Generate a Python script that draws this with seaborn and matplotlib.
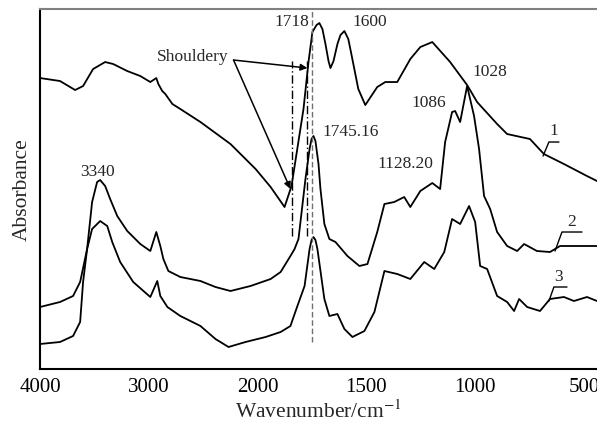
import numpy as np
import pandas as pd
import matplotlib
matplotlib.use("Agg")
import matplotlib.pyplot as plt
import seaborn as sns

# ---------------- data ----------------
wn1 = [4000, 3816, 3677, 3604, 3512, 3401, 3327, 3198, 3078, 2986, 2931, 2912, 2876, 2848,
       2783, 2710, 2525, 2249, 2018, 1940, 1876, 1844, 1789, 1766, 1748, 1729, 1716, 1702,
       1688, 1674, 1665, 1651, 1633, 1619, 1601, 1583, 1569, 1537, 1505, 1450, 1413, 1358,
       1298, 1252, 1197, 1115, 1037, 991, 899, 853, 748, 684, 592, 486, 440]
ab1 = [2.91, 2.88, 2.79, 2.83, 3.00, 3.07, 3.05, 2.98, 2.93, 2.87, 2.91, 2.85, 2.78, 2.75,
       2.65, 2.60, 2.47, 2.25, 2.00, 1.82, 1.62, 1.83, 2.60, 3.07, 3.37, 3.44, 3.46, 3.40,
       3.25, 3.08, 3.01, 3.08, 3.25, 3.34, 3.38, 3.30, 3.15, 2.80, 2.64, 2.82, 2.87, 2.87,
       3.10, 3.22, 3.27, 3.07, 2.84, 2.67, 2.45, 2.35, 2.30, 2.15, 2.05, 1.93, 1.88]

wn2 = [4000, 3816, 3696, 3631, 3567, 3521, 3475, 3447, 3401, 3355, 3290, 3198, 3078, 2986,
       2931, 2894, 2866, 2820, 2710, 2525, 2387, 2249, 2065, 1940, 1894, 1849, 1830, 1812,
       1780, 1761, 1752, 1743, 1734, 1720, 1711, 1693, 1670, 1642, 1587, 1532, 1495, 1450,
       1417, 1372, 1326, 1298, 1252, 1197, 1161, 1138, 1106, 1092, 1069, 1037, 1005, 982,
       959, 931, 899, 853, 807, 775, 716, 656, 610, 546, 440]
ab2 = [0.62, 0.67, 0.73, 0.87, 1.20, 1.67, 1.87, 1.89, 1.83, 1.70, 1.53, 1.38, 1.25, 1.18,
       1.37, 1.23, 1.10, 0.98, 0.92, 0.88, 0.82, 0.78, 0.83, 0.90, 0.97, 1.13, 1.20, 1.30,
       1.90, 2.20, 2.30, 2.33, 2.28, 2.05, 1.80, 1.45, 1.30, 1.27, 1.13, 1.03, 1.05, 1.37,
       1.65, 1.67, 1.72, 1.62, 1.78, 1.86, 1.80, 2.27, 2.57, 2.58, 2.47, 2.83, 2.53, 2.20,
       1.73, 1.60, 1.37, 1.23, 1.18, 1.25, 1.18, 1.17, 1.23, 1.23, 1.23]

wn3 = [4000, 3816, 3696, 3631, 3604, 3567, 3521, 3447, 3382, 3336, 3263, 3143, 2986, 2922,
       2894, 2829, 2710, 2617, 2525, 2387, 2267, 2111, 1963, 1894, 1849, 1817, 1784, 1761,
       1752, 1743, 1734, 1725, 1693, 1670, 1633, 1601, 1564, 1509, 1463, 1417, 1358, 1298,
       1234, 1188, 1142, 1106, 1069, 1028, 1000, 977, 945, 899, 853, 821, 798, 761, 702,
       656, 592, 546, 486, 440]
ab3 = [0.25, 0.27, 0.33, 0.47, 0.87, 1.20, 1.40, 1.48, 1.43, 1.27, 1.07, 0.87, 0.72, 0.88,
       0.73, 0.62, 0.53, 0.48, 0.43, 0.30, 0.22, 0.27, 0.32, 0.37, 0.43, 0.63, 0.83, 1.20,
       1.29, 1.32, 1.29, 1.20, 0.70, 0.53, 0.55, 0.40, 0.32, 0.38, 0.57, 0.98, 0.95, 0.90,
       1.07, 1.00, 1.17, 1.50, 1.45, 1.63, 1.47, 1.03, 1.00, 0.73, 0.67, 0.58, 0.70, 0.62,
       0.58, 0.70, 0.72, 0.68, 0.72, 0.68]

xticks = [4000, 3000, 2000, 1500, 1000, 500]
peak_labels = ["3340", "1718", "1600", "1028", "1086", "1745.16", "1128.20"]
curve_labels = ["1", "2", "3"]

# ---------------- figure ----------------
sns.set_style("white")
plt.rcParams["font.family"] = ["Liberation Serif", "DejaVu Serif"]
plt.rcParams["mathtext.fontset"] = "stix"

fig = plt.figure(figsize=(5.97, 4.27), dpi=100)
ax = fig.add_axes([0.067, 0.1335, 0.933, 0.843])

df = pd.concat([
    pd.DataFrame({"wn": wn1, "A": ab1, "s": "1"}),
    pd.DataFrame({"wn": wn2, "A": ab2, "s": "2"}),
    pd.DataFrame({"wn": wn3, "A": ab3, "s": "3"}),
])
sns.lineplot(data=df, x="wn", y="A", hue="s", units="s", estimator=None,
             palette=["black"] * 3, lw=1.3, legend=False, ax=ax, sort=False)


def fwd(x):
    x = np.asarray(x, dtype=float)
    return np.where(x > 2000, 2000 + (x - 2000) / 2.0, x)


def inv(t):
    t = np.asarray(t, dtype=float)
    return np.where(t > 2000, 2000 + (t - 2000) * 2.0, t)


ax.set_xscale("function", functions=(fwd, inv))
ax.set_xlim(4000, 440)
ax.set_ylim(0, 3.6)
ax.set_xticks(xticks)
ax.set_xticklabels([str(t) for t in xticks], fontsize=15)
ax.set_yticks([])
ax.tick_params(axis="x", direction="in", length=3, width=1, pad=6, colors="black")
ax.minorticks_off()
ax.set_xlabel("Wavenumber/cm$^{-1}$", fontsize=15.5, labelpad=2)
ax.set_ylabel("Absorbance", fontsize=15.5, labelpad=6)

for s in ["left", "bottom"]:
    ax.spines[s].set_color("black")
    ax.spines[s].set_linewidth(1.5)
ax.spines["top"].set_color("#808080")
ax.spines["top"].set_linewidth(1.5)
ax.spines["right"].set_visible(False)

# reference lines
ax.plot([1840, 1840], [1.33, 3.08], color="black", lw=1.0, ls=(0, (6, 2, 1, 2)))
ax.plot([1771, 1771], [1.33, 3.08], color="black", lw=1.0, ls=(0, (6, 2, 1, 2)))
ax.plot([1748, 1748], [0.27, 3.6], color="#707070", lw=1.0, ls=(0, (4, 2)))

# peak labels
fs = 12.5
ax.text(3475, 1.98, peak_labels[0], ha="center", va="center", fontsize=fs)
ax.text(1762, 3.48, peak_labels[1], ha="right", va="center", fontsize=fs)
ax.text(1486, 3.48, peak_labels[2], ha="center", va="center", fontsize=fs)
ax.text(931, 2.98, peak_labels[3], ha="center", va="center", fontsize=fs)
ax.text(1211, 2.67, peak_labels[4], ha="center", va="center", fontsize=fs)
ax.text(1573, 2.38, peak_labels[5], ha="center", va="center", fontsize=fs)
ax.text(1321, 2.06, peak_labels[6], ha="center", va="center", fontsize=fs)

# Shouldery annotation
ax.text(2267, 3.13, "Shouldery", ha="right", va="center", fontsize=fs)
for tgt in [(1771, 3.01), (1849, 1.80)]:
    ax.annotate("", xy=tgt, xytext=(2221, 3.09),
                arrowprops=dict(arrowstyle="-|>", color="black", lw=1.1,
                                mutation_scale=10, shrinkA=0, shrinkB=0))

# curve number labels with leaders
leaders = [
    ([688, 661, 615], [2.13, 2.27, 2.27], (638, 2.39)),
    ([633, 601, 509], [1.18, 1.37, 1.37], (555, 1.48)),
    ([661, 638, 578], [0.68, 0.82, 0.82], (615, 0.93)),
]
for lab, (lx, ly, tp) in zip(curve_labels, leaders):
    ax.plot(lx, ly, color="black", lw=1.0)
    ax.text(tp[0], tp[1], lab, ha="center", va="center", fontsize=fs)

fig.savefig("out.png", dpi=100)
